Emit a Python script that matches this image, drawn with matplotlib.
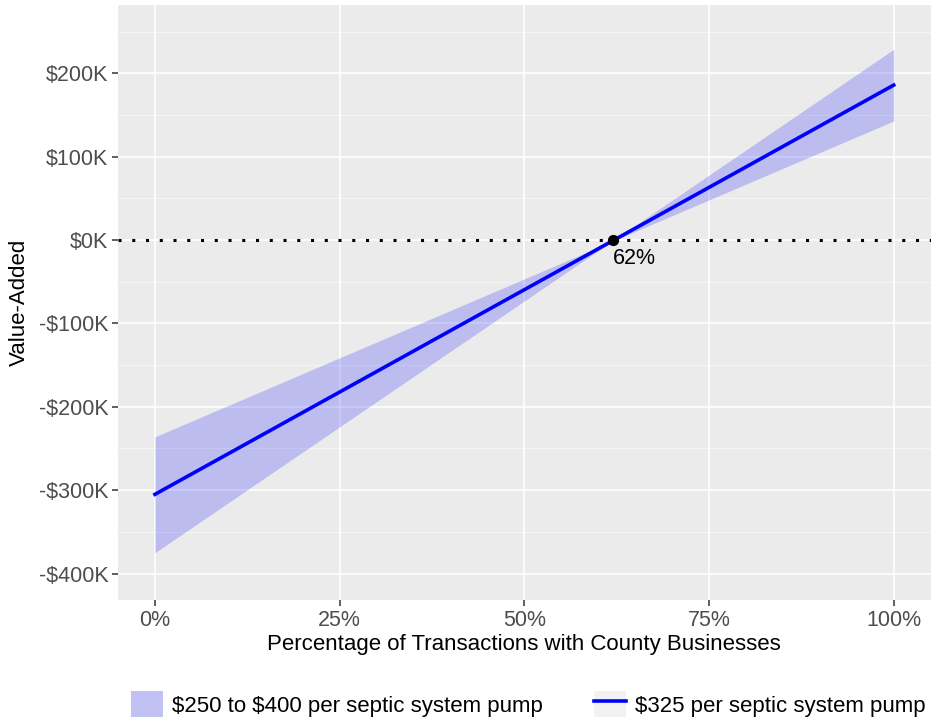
import matplotlib
matplotlib.use("Agg")
import matplotlib.pyplot as plt
import numpy as np
from matplotlib.patches import Patch
from matplotlib.lines import Line2D
from matplotlib.legend_handler import HandlerTuple

plt.rcParams['font.family'] = ['Liberation Sans', 'DejaVu Sans']

# share of transactions with county businesses (%)
pct = [0, 100]
# value-added (thousand $) at each end
mid_price = [-305, 186]      # $325 per pump
low_edge = [-236, 143]       # band edge 1
high_edge = [-375, 229]      # band edge 2
breakeven = 62

yticks = [200, 100, 0, -100, -200, -300, -400]
ytick_labels = [r"\$200K", r"\$100K", r"\$0K", r"-\$100K", r"-\$200K", r"-\$300K", r"-\$400K"]
xticks = [0, 25, 50, 75, 100]
xtick_labels = ["0%", "25%", "50%", "75%", "100%"]
legend_labels = [r"\$250 to \$400 per septic system pump", r"\$325 per septic system pump"]

fig = plt.figure(figsize=(9.33, 7.24), dpi=100)
ax = fig.add_axes([0.1265, 0.171, 0.871, 0.822])
ax.set_facecolor("#ebebeb")

ax.set_xlim(-5, 105)
ax.set_ylim(-432, 282)

# grid
for v in [250, 150, 50, -50, -150, -250, -350]:
    ax.axhline(v, color="#f7f7f7", lw=0.6, zorder=0)
for v in yticks:
    ax.axhline(v, color="white", lw=1.2, zorder=0)
for v in xticks:
    ax.axvline(v, color="white", lw=1.2, zorder=0)

ax.fill_between(pct, low_edge, high_edge, color="#0000ff", alpha=0.2, lw=0, zorder=2)
ax.plot([-5, 105], [0, 0], color="black", lw=2.2, ls=(0, (1, 3.5)), zorder=3)
ax.plot(pct, mid_price, color="#0000ff", lw=2.6, zorder=4)
ax.scatter([breakeven], [0], color="black", s=50, zorder=5)
ax.text(breakeven, -10, f"{breakeven}%", fontsize=15.5, ha="left", va="top", zorder=6)

ax.set_xticks(xticks)
ax.set_xticklabels(xtick_labels)
ax.set_yticks(yticks)
ax.set_yticklabels(ytick_labels)
ax.tick_params(axis="both", colors="#333333", labelcolor="#4d4d4d", labelsize=15.5,
               length=4, width=1.1, pad=3)
for s in ax.spines.values():
    s.set_visible(False)

ax.set_xlabel("Percentage of Transactions with County Businesses", fontsize=16, labelpad=2)
ax.set_ylabel("Value-Added", fontsize=16, labelpad=6)

# legend (grey key background like ggplot)
bg = "#f2f2f2"
handles = [(Patch(facecolor=bg, edgecolor="none"),
            Patch(facecolor="#0000ff", alpha=0.2, edgecolor="none")),
           (Patch(facecolor=bg, edgecolor="none"),
            Line2D([0], [0], color="#0000ff", lw=2.6))]
leg = fig.legend(handles, legend_labels, loc="lower center", bbox_to_anchor=(0.566, -0.018), ncol=2,
                 frameon=False, fontsize=16, handlelength=1.45, handleheight=1.4,
                 columnspacing=2.3, handletextpad=0.4,
                 handler_map={tuple: HandlerTuple(ndivide=1, pad=0)})

fig.savefig("out.png", dpi=100)
